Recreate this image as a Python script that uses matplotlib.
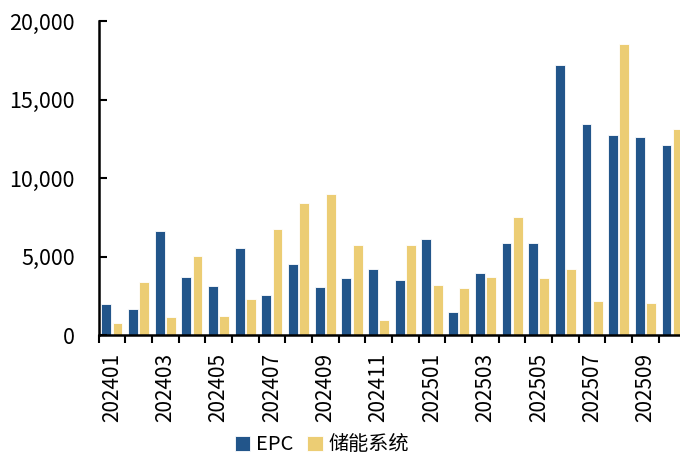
import numpy as np
import matplotlib
matplotlib.use('Agg')
import matplotlib.pyplot as plt
from matplotlib.ticker import FuncFormatter

plt.rcParams['font.family'] = ['Noto Sans CJK SC', 'DejaVu Sans']

# monthly data, 202401 - 202510
months = ['202401', '202402', '202403', '202404', '202405', '202406', '202407', '202408',
          '202409', '202410', '202411', '202412', '202501', '202502', '202503', '202504',
          '202505', '202506', '202507', '202508', '202509', '202510']
epc = [2000, 1680, 6620, 3720, 3130, 5550, 2560, 4510, 3070, 3640, 4210,
       3530, 6110, 1470, 3940, 5850, 5890, 17250, 13450, 12770, 12640, 12130]
storage = [760, 3390, 1170, 5070, 1210, 2300, 6790, 8400, 9020, 5770, 960,
           5750, 3170, 3020, 3700, 7530, 3620, 4230, 2170, 18580, 2020, 13130]

blue = '#22558a'
yellow = '#eccd74'

fig = plt.figure(figsize=(6.8, 4.57), dpi=100)
ax = fig.add_axes([98.5 / 680, 122 / 457, 587 / 680, 313.5 / 457])

x = np.arange(len(months))
w = 0.37
ax.bar(x - 0.21, epc, w, color=blue, edgecolor='white', linewidth=0.6, label='EPC')
ax.bar(x + 0.21, storage, w, color=yellow, edgecolor='white', linewidth=0.6, label='储能系统')

ax.set_xlim(-0.5, len(months) - 0.5)
ax.set_ylim(0, 20000)
ax.set_yticks([0, 5000, 10000, 15000, 20000])
ax.yaxis.set_major_formatter(FuncFormatter(lambda v, p: f'{int(v):,}'))

# labels every other month, ticks on group boundaries
ax.set_xticks(x[::2])
ax.set_xticklabels(months[::2], rotation=90)
ax.set_xticks(np.arange(len(months) + 1) - 0.5, minor=True)
ax.tick_params(axis='x', which='major', length=0, pad=13, labelsize=15)
ax.tick_params(axis='x', which='minor', length=6, width=1.5, direction='out')
ax.tick_params(axis='y', direction='in', length=6, width=1.5, pad=17, labelsize=15.5)

for s in ['top', 'right']:
    ax.spines[s].set_visible(False)
for s in ['left', 'bottom']:
    ax.spines[s].set_linewidth(1.8)

fig.legend(loc='center', bbox_to_anchor=(322 / 680, 1 - 445 / 457), ncol=2, frameon=False,
           fontsize=14.5, handlelength=0.75, handleheight=0.75, handletextpad=0.3,
           columnspacing=0.7)

fig.savefig('out.png', dpi=100)
